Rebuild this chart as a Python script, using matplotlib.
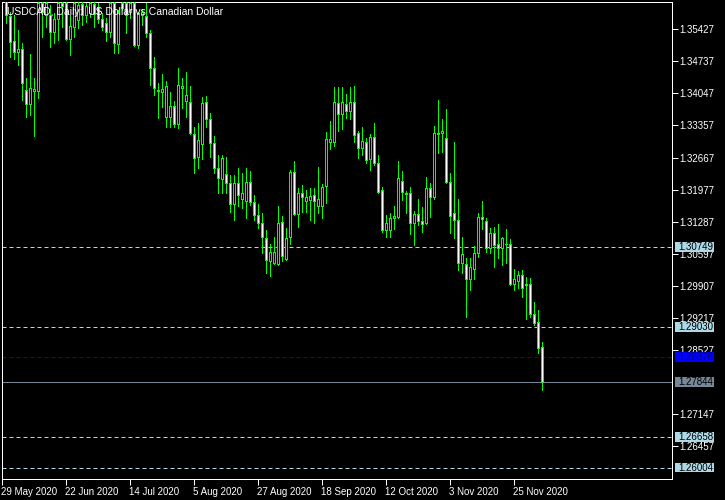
import matplotlib
matplotlib.use('Agg')
import matplotlib.pyplot as plt
import matplotlib.transforms as mtransforms
from matplotlib.patches import Rectangle
import pandas as pd

plt.rcParams['font.family'] = ['Liberation Sans', 'DejaVu Sans']

chart_title = 'USDCAD, Daily:  US Dollar vs Canadian Dollar'

# daily bars, 1 Jun 2020 .. 4 Dec 2020
opens = [
  1.3615, 1.3572, 1.3518, 1.3494, 1.3500, 1.3412, 1.3382, 1.3410, 1.3410, 1.3600,
  1.3574, 1.3574, 1.3537, 1.3565, 1.3600, 1.3600, 1.3522, 1.3548, 1.3563, 1.3597,
  1.3574, 1.3578, 1.3597, 1.3591, 1.3565, 1.3556, 1.3537, 1.3600, 1.3511, 1.3600,
  1.3600, 1.3580, 1.3600, 1.3509, 1.3574, 1.3572, 1.3535, 1.3459, 1.3412, 1.3408,
  1.3354, 1.3354, 1.3378, 1.3339, 1.3416, 1.3388, 1.3386, 1.3317, 1.3268, 1.3296,
  1.3386, 1.3350, 1.3298, 1.3244, 1.3220, 1.3231, 1.3212, 1.3166, 1.3212, 1.3177,
  1.3173, 1.3214, 1.3171, 1.3143, 1.3125, 1.3093, 1.3044, 1.3041, 1.3039, 1.3128,
  1.3048, 1.3095, 1.3235, 1.3145, 1.3190, 1.3173, 1.3175, 1.3186, 1.3162, 1.3162,
  1.3205, 1.3300, 1.3300, 1.3384, 1.3360, 1.3382, 1.3367, 1.3386, 1.3319, 1.3287,
  1.3300, 1.3263, 1.3311, 1.3255, 1.3197, 1.3110, 1.3110, 1.3136, 1.3138, 1.3216,
  1.3190, 1.3190, 1.3125, 1.3145, 1.3130, 1.3125, 1.3201, 1.3181, 1.3319, 1.3319,
  1.3309, 1.3214, 1.3147, 1.3132, 1.3041, 1.3037, 1.3005, 1.3028, 1.3061, 1.3138,
  1.3130, 1.3072, 1.3104, 1.3080, 1.3072, 1.3082, 1.3082, 1.2994, 1.3002, 1.3015,
  1.2994, 1.2996, 1.2931, 1.2914, 1.2860,
]
highs = [
  1.3620, 1.3580, 1.3574, 1.3541, 1.3513, 1.3438, 1.3490, 1.3438, 1.3606, 1.3606,
  1.3606, 1.3595, 1.3578, 1.3606, 1.3606, 1.3606, 1.3574, 1.3606, 1.3602, 1.3602,
  1.3600, 1.3602, 1.3602, 1.3600, 1.3578, 1.3567, 1.3602, 1.3602, 1.3584, 1.3602,
  1.3602, 1.3602, 1.3602, 1.3580, 1.3587, 1.3600, 1.3541, 1.3483, 1.3427, 1.3447,
  1.3431, 1.3408, 1.3388, 1.3459, 1.3438, 1.3451, 1.3421, 1.3332, 1.3341, 1.3397,
  1.3399, 1.3362, 1.3313, 1.3272, 1.3272, 1.3268, 1.3229, 1.3229, 1.3244, 1.3233,
  1.3244, 1.3237, 1.3186, 1.3166, 1.3147, 1.3110, 1.3082, 1.3095, 1.3162, 1.3141,
  1.3115, 1.3240, 1.3259, 1.3201, 1.3207, 1.3197, 1.3201, 1.3201, 1.3246, 1.3209,
  1.3322, 1.3345, 1.3419, 1.3419, 1.3419, 1.3403, 1.3419, 1.3421, 1.3324, 1.3332,
  1.3309, 1.3317, 1.3341, 1.3272, 1.3203, 1.3143, 1.3147, 1.3162, 1.3259, 1.3237,
  1.3194, 1.3203, 1.3151, 1.3177, 1.3160, 1.3225, 1.3212, 1.3334, 1.3391, 1.3350,
  1.3371, 1.3233, 1.3300, 1.3177, 1.3095, 1.3050, 1.3050, 1.3076, 1.3147, 1.3173,
  1.3136, 1.3115, 1.3117, 1.3123, 1.3095, 1.3113, 1.3091, 1.3028, 1.3022, 1.3024,
  1.3009, 1.3007, 1.2957, 1.2940, 1.2871,
]
lows = [
  1.3556, 1.3483, 1.3479, 1.3466, 1.3391, 1.3354, 1.3358, 1.3313, 1.3395, 1.3526,
  1.3548, 1.3505, 1.3513, 1.3520, 1.3548, 1.3520, 1.3487, 1.3526, 1.3546, 1.3552,
  1.3559, 1.3569, 1.3548, 1.3556, 1.3541, 1.3518, 1.3526, 1.3492, 1.3492, 1.3584,
  1.3535, 1.3567, 1.3507, 1.3503, 1.3552, 1.3526, 1.3423, 1.3401, 1.3352, 1.3375,
  1.3332, 1.3332, 1.3332, 1.3330, 1.3373, 1.3354, 1.3317, 1.3233, 1.3244, 1.3263,
  1.3332, 1.3268, 1.3233, 1.3190, 1.3190, 1.3190, 1.3149, 1.3132, 1.3162, 1.3158,
  1.3136, 1.3164, 1.3132, 1.3115, 1.3061, 1.3018, 1.3013, 1.3039, 1.3035, 1.3044,
  1.3046, 1.3082, 1.3143, 1.3117, 1.3149, 1.3149, 1.3132, 1.3125, 1.3147, 1.3136,
  1.3169, 1.3285, 1.3291, 1.3324, 1.3328, 1.3352, 1.3350, 1.3300, 1.3266, 1.3272,
  1.3255, 1.3240, 1.3250, 1.3190, 1.3106, 1.3097, 1.3097, 1.3113, 1.3136, 1.3175,
  1.3147, 1.3102, 1.3078, 1.3121, 1.3106, 1.3123, 1.3138, 1.3177, 1.3276, 1.3278,
  1.3212, 1.3104, 1.3093, 1.3024, 1.3018, 1.2925, 1.2981, 1.3005, 1.3052, 1.3113,
  1.3063, 1.3061, 1.3031, 1.3050, 1.3035, 1.3041, 1.2992, 1.2983, 1.2987, 1.2968,
  1.2919, 1.2925, 1.2906, 1.2847, 1.2768,
]
closes = [
  1.3574, 1.3515, 1.3494, 1.3500, 1.3427, 1.3382, 1.3416, 1.3414, 1.3600, 1.3580,
  1.3600, 1.3537, 1.3565, 1.3600, 1.3593, 1.3522, 1.3550, 1.3600, 1.3595, 1.3574,
  1.3593, 1.3600, 1.3576, 1.3565, 1.3548, 1.3537, 1.3600, 1.3513, 1.3578, 1.3589,
  1.3574, 1.3600, 1.3509, 1.3578, 1.3580, 1.3535, 1.3459, 1.3416, 1.3410, 1.3414,
  1.3421, 1.3378, 1.3339, 1.3423, 1.3421, 1.3401, 1.3319, 1.3266, 1.3304, 1.3384,
  1.3350, 1.3298, 1.3244, 1.3222, 1.3266, 1.3212, 1.3166, 1.3212, 1.3186, 1.3190,
  1.3214, 1.3171, 1.3143, 1.3125, 1.3095, 1.3046, 1.3063, 1.3063, 1.3125, 1.3056,
  1.3093, 1.3235, 1.3145, 1.3190, 1.3181, 1.3181, 1.3184, 1.3173, 1.3177, 1.3203,
  1.3306, 1.3306, 1.3386, 1.3360, 1.3386, 1.3367, 1.3386, 1.3315, 1.3287, 1.3302,
  1.3261, 1.3311, 1.3255, 1.3192, 1.3110, 1.3125, 1.3136, 1.3141, 1.3222, 1.3192,
  1.3189, 1.3125, 1.3145, 1.3130, 1.3123, 1.3201, 1.3181, 1.3319, 1.3318, 1.3324,
  1.3214, 1.3141, 1.3132, 1.3041, 1.3059, 1.3005, 1.3031, 1.3061, 1.3138, 1.3134,
  1.3072, 1.3104, 1.3078, 1.3072, 1.3093, 1.3081, 1.2994, 1.3005, 1.3015, 1.2987,
  1.2993, 1.2931, 1.2912, 1.2858, 1.27844,
]

price_ticks = [1.35427, 1.34737, 1.34047, 1.33357, 1.32667, 1.31977, 1.31287,
               1.30597, 1.29907, 1.29217, 1.28527, 1.27147, 1.26457]
level_prices = [1.30749, 1.29030, 1.26658, 1.26004]
blue_level = 1.28376
last_price = 1.27844

# trading days, first one (29 May) sits on the left border
days = pd.bdate_range('2020-05-29', '2020-12-04')

GREEN = '#00ff00'
LEVEL = '#add8e6'
px = 0.72  # one pixel in points at 100 dpi

fig = plt.figure(figsize=(7.25, 5), dpi=100, facecolor='black')
ax = fig.add_axes([2 / 725, 21 / 500, 670 / 725, 477 / 500], facecolor='black')

xs = list(range(1, len(days)))
ax.vlines(xs, lows, highs, color=GREEN, linewidth=px, zorder=3, antialiased=False)
fills = ['white' if c < o else 'black' for o, c in zip(opens, closes)]
bottoms = [min(o, c) for o, c in zip(opens, closes)]
heights = [abs(c - o) for o, c in zip(opens, closes)]
ax.bar(xs, heights, bottom=bottoms, width=0.5, color=fills, edgecolor=GREEN,
       linewidth=px, zorder=4, antialiased=False)

ax.set_xlim(0, 167.5)
ax.set_ylim(1.25757, 1.36012)

# horizontal levels
for p in level_prices:
  ax.axhline(p, color=LEVEL, linewidth=px, linestyle=(0, (4, 3)), zorder=2)
ax.axhline(blue_level, color='#0000ff', linewidth=px, linestyle=(0, (4, 3)), zorder=2)
ax.axhline(last_price, color='#778899', linewidth=px, zorder=2)

# price axis on the right
ax.yaxis.tick_right()
ax.set_yticks(price_ticks)
ax.set_yticklabels([f'{t:.5f}' for t in price_ticks])
ax.tick_params(axis='y', colors='white', length=4, width=px, pad=1.5, labelsize=7)

# date axis
tick_pos = list(range(0, len(days), 16))
ax.set_xticks(tick_pos)
ax.set_xticklabels([f'{days[i].day} {days[i].strftime("%b %Y")}' for i in tick_pos],
                   ha='left')
ax.tick_params(axis='x', colors='white', length=4, width=px, pad=2, labelsize=7)
for lbl in ax.get_xticklabels():
  lbl.set_transform(lbl.get_transform() + mtransforms.ScaledTranslation(-1 / 100, 0, fig.dpi_scale_trans))

for s in ax.spines.values():
  s.set_color('white')
  s.set_linewidth(px)

# price boxes
trans = mtransforms.blended_transform_factory(ax.transAxes, ax.transData)
boxes = [(p, LEVEL, 'black') for p in level_prices]
boxes += [(blue_level, '#0000ff', '#000080'), (last_price, '#778899', 'black')]
for p, fc, tc in boxes:
  ax.add_patch(Rectangle((1 + 3 / 670, p - 0.00107), 39 / 670, 0.00214,
                         transform=trans, facecolor=fc, edgecolor='none',
                         clip_on=False, zorder=5))
  ax.text(1 + 6 / 670, p, f'{p:.5f}', transform=trans, color=tc, fontsize=7,
          va='center', ha='left', zorder=6, clip_on=False)

ax.text(5 / 670, 1 - 10 / 477, chart_title, transform=ax.transAxes, color='white',
        fontsize=7.5, va='center', ha='left', zorder=7)

fig.savefig('out.png', dpi=100, facecolor='black')
